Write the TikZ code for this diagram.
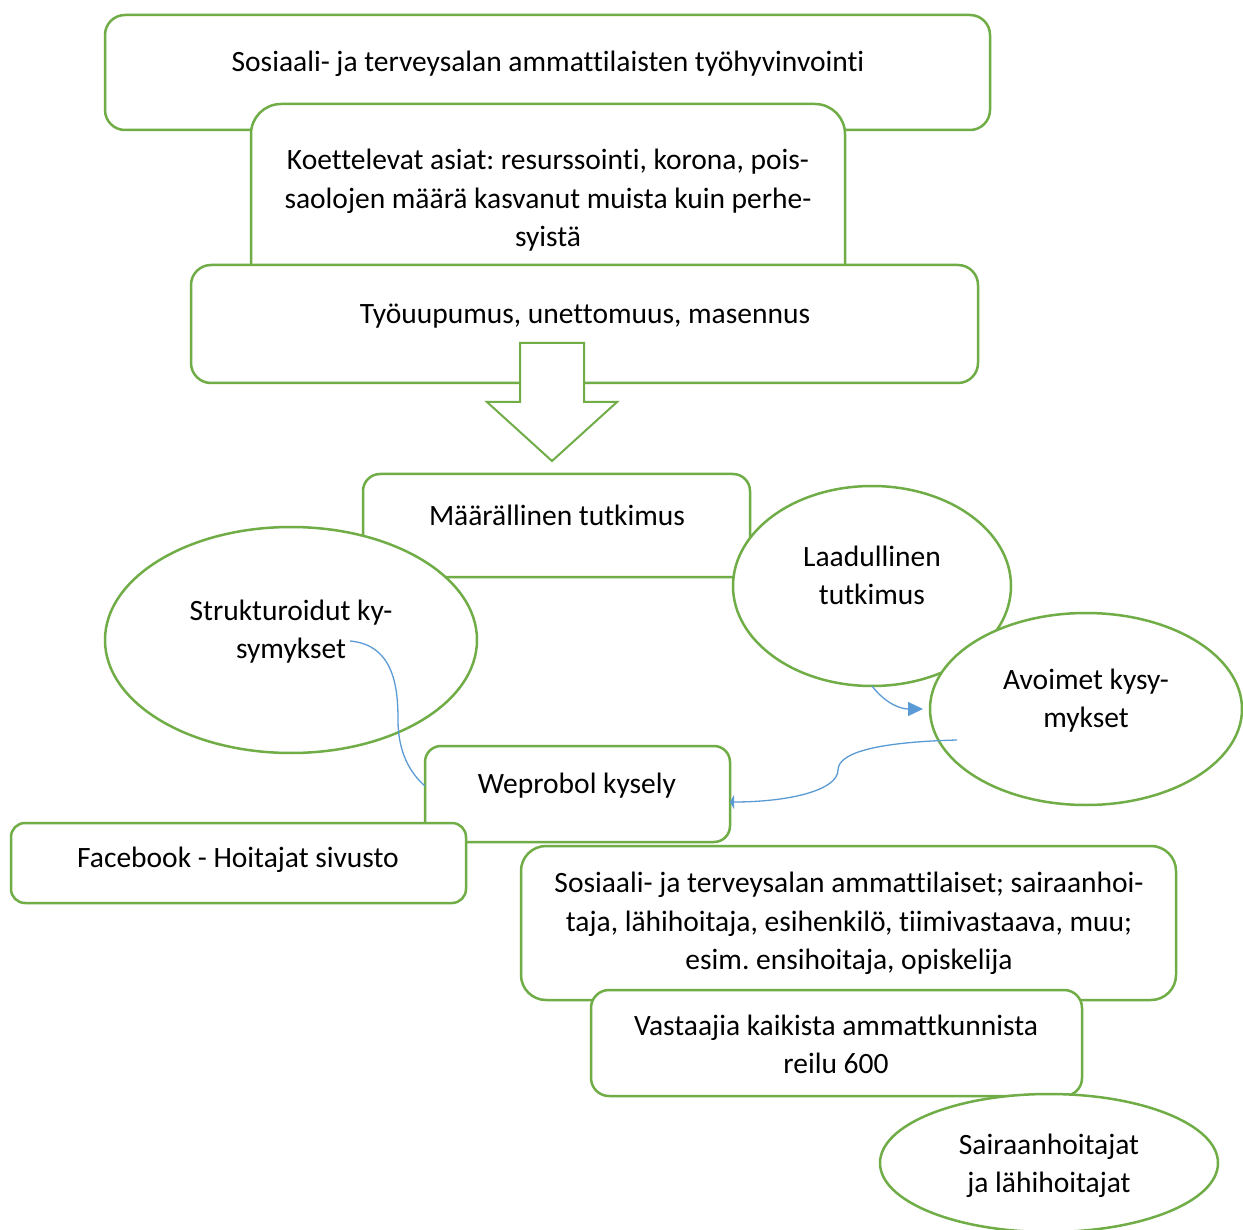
\documentclass[tikz,border=0pt]{standalone}
\usepackage{fontspec}
\setmainfont[Ligatures={NoCommon}]{Carlito}
\usetikzlibrary{shapes.geometric,arrows.meta}
\definecolor{gr}{HTML}{70AD47}
\definecolor{bl}{HTML}{5B9BD5}
\frenchspacing
\begin{document}
\begin{tikzpicture}[x=1pt,y=-1pt,
  box/.style={draw=gr, line width=2.5pt, fill=white, inner sep=0pt, outer sep=0pt},
  rbox/.style={box, rectangle, rounded corners=#1},
  ell/.style={box, ellipse},
  txt/.style={font=\fontsize{29.5}{38.5}\selectfont, align=center, inner sep=0pt,
    execute at begin node=\strut, execute at end node=\strut},
  con/.style={draw=bl, line width=1.3pt}]
\useasboundingbox (0,0) rectangle (1243,1230);
\fill[white] (0,0) rectangle (1243,1230);

\node[rbox=20pt, minimum width=885pt, minimum height=115pt] (b1) at (547.5,72.5) {};
\node[txt] (t1) at (548,64) {Sosiaali- ja terveysalan ammattilaisten työhyvinvointi};

\node[rbox=30pt, minimum width=594pt, minimum height=196pt] (b2) at (548,202) {};
\node[txt] (t2) at (548,204) {Koettelevat asiat: resurssointi, korona, pois-\\saolojen määrä kasvanut muista kuin perhe-\\syistä};

\node[rbox=20pt, minimum width=787pt, minimum height=118pt] (b3) at (584.5,324) {};
\node[txt] (t3) at (585,316) {Työuupumus, unettomuus, masennus};

\draw[box, line width=2pt] (520,343) -- (584,343) -- (584,402) -- (617,402) -- (552,461) -- (487,402) -- (520,402) -- cycle;

\node[rbox=17pt, minimum width=387pt, minimum height=103pt] (b4) at (556.5,525.5) {};
\node[txt] (t4) at (557,518) {Määrällinen tutkimus};

\node[ell, minimum width=278pt, minimum height=200pt] (laad) at (872,586) {};
\node[txt] (t5) at (872,581) {Laadullinen\\tutkimus};

\node[ell, minimum width=372pt, minimum height=226pt] (strukt) at (291,640) {};
\node[txt] (t6) at (291,635) {Strukturoidut ky-\\symykset};

\node[ell, minimum width=312pt, minimum height=192pt] (avo) at (1086,709) {};
\node[txt] (t7) at (1086,704) {Avoimet kysy-\\mykset};

\node[rbox=16pt, minimum width=305pt, minimum height=96pt] (wep) at (577.5,794) {};
\node[txt] (t8) at (577,786) {Weprobol kysely};

\coordinate (s1) at (350,641);
\draw[con] (s1) .. controls (395,645) and (398,690) .. (398,720) .. controls (398,752) and (410,773) .. ([yshift=8pt]wep.west);

\coordinate (e2) at (923,709);
\draw[con, -{Triangle[length=15pt,width=14pt]}] (laad.south) .. controls (885,703) and (900,709) .. (e2);

\coordinate (s3) at (957,740);
\draw[con, -{Triangle[length=4pt,width=14pt]}] (s3) .. controls (880,742) and (838,752) .. (838,770) .. controls (838,790) and (790,802) .. ([yshift=-8pt]wep.east);

\node[rbox=14pt, minimum width=455pt, minimum height=80pt] (fb) at (238.5,863) {};
\node[txt] (t9) at (238,860) {Facebook - Hoitajat sivusto};

\node[rbox=25pt, minimum width=655pt, minimum height=154pt] (b5) at (848.5,923) {};
\node[txt] (t10) at (849,927) {Sosiaali- ja terveysalan ammattilaiset; sairaanhoi-\\taja, lähihoitaja, esihenkilö, tiimivastaava, muu;\\esim. ensihoitaja, opiskelija};

\node[rbox=18pt, minimum width=491pt, minimum height=106pt] (b6) at (836.5,1043) {};
\node[txt] (t11) at (836,1050) {Vastaajia kaikista ammattkunnista\\reilu 600};

\node[ell, minimum width=338pt, minimum height=138pt] (sai) at (1049,1163) {};
\node[txt] (t12) at (1049,1169) {Sairaanhoitajat\\ja lähihoitajat};
\end{tikzpicture}
\end{document}
